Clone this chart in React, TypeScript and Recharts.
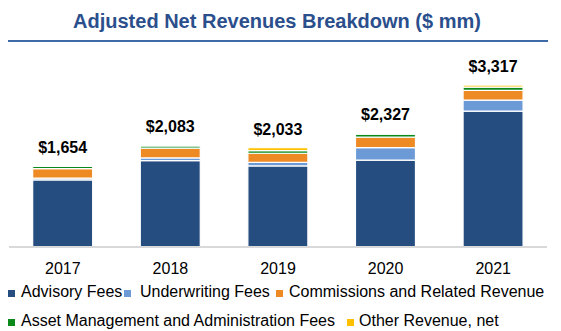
import { BarChart, Bar, XAxis, YAxis, Legend, LabelList } from 'recharts';

const years = ['2017', '2018', '2019', '2020', '2021'];
const advisoryFees = [1375, 1770, 1660, 1780, 2785];
const underwritingFees = [35, 55, 75, 255, 225];
const commissions = [195, 200, 185, 215, 200];
const assetMgmtFees = [45, 48, 55, 62, 65];
const otherRevenue = [4, 10, 58, 15, 42];
const totals = ['$1,654', '$2,083', '$2,033', '$2,327', '$3,317'];

const series = [
  { key: 'advisory', name: 'Advisory Fees', color: '#264D80' },
  { key: 'underwriting', name: 'Underwriting Fees', color: '#6C9AD6' },
  { key: 'commissions', name: 'Commissions and Related Revenue', color: '#EE8A24' },
  { key: 'assetMgmt', name: 'Asset Management and Administration Fees', color: '#0B8A1B' },
  { key: 'other', name: 'Other Revenue, net', color: '#FFC000' },
];

const data = years.map((year, i) => ({
  year,
  advisory: advisoryFees[i],
  underwriting: underwritingFees[i],
  commissions: commissions[i],
  assetMgmt: assetMgmtFees[i],
  other: otherRevenue[i],
  total: totals[i],
}));

const FONT = 'Arial, "Liberation Sans", sans-serif';

// legend layout: square x, text x, row top
const legendPos = [
  { sq: 8, tx: 21, top: 6 },
  { sq: 124, tx: 140, top: 6 },
  { sq: 276, tx: 289, top: 6 },
  { sq: 8, tx: 21, top: 35 },
  { sq: 347, tx: 359, top: 35 },
];

function LegendContent() {
  return (
    <div style={{ position: 'relative', width: 561, height: 54, fontFamily: FONT }}>
      {series.map((s, i) => (
        <div key={s.key}>
          <span
            style={{
              position: 'absolute',
              left: legendPos[i].sq,
              top: legendPos[i].top + 7,
              width: 7,
              height: 7,
              background: s.color,
            }}
          />
          <span
            style={{
              position: 'absolute',
              left: legendPos[i].tx,
              top: legendPos[i].top,
              fontSize: 16,
              lineHeight: '18px',
              color: '#000',
              whiteSpace: 'nowrap',
            }}
          >
            {s.name}
          </span>
        </div>
      ))}
    </div>
  );
}

export default function App() {
  return (
    <div style={{ position: 'absolute', left: 0, top: 0, width: 561, height: 331, background: '#fff', fontFamily: FONT }}>
      <div
        style={{
          position: 'absolute',
          left: 0,
          top: 9,
          width: 554,
          textAlign: 'center',
          fontSize: 20,
          fontWeight: 'bold',
          color: '#2B4F8C',
          lineHeight: '24px',
        }}
      >
        Adjusted Net Revenues Breakdown ($ mm)
      </div>
      <div style={{ position: 'absolute', left: 8, top: 40, width: 540, height: 2, background: '#3F6AA8' }} />
      <div style={{ position: 'absolute', left: 0, top: 0 }}>
        <BarChart
          width={561}
          height={331}
          data={data}
          margin={{ top: 81, right: 14, left: 9, bottom: 0 }}
          barCategoryGap="22%"
        >
          <XAxis
            dataKey="year"
            height={30}
            tickLine={false}
            tickMargin={10}
            axisLine={{ stroke: '#D9D9D9', strokeWidth: 2 }}
            tick={{ fontSize: 16, fill: '#000', fontFamily: FONT }}
          />
          <YAxis hide domain={[0, 3400]} />
          <Legend
            verticalAlign="bottom"
            content={<LegendContent />}
            wrapperStyle={{ left: 0, bottom: 0, width: 561, height: 54 }}
          />
          {series.map((s, i) => (
            <Bar
              key={s.key}
              dataKey={s.key}
              name={s.name}
              stackId="a"
              fill={s.color}
              stroke="#fff"
              strokeWidth={1.2}
              isAnimationActive={false}
            >
              {i === series.length - 1 && (
                <LabelList
                  dataKey="total"
                  position="top"
                  offset={13}
                  style={{ fontSize: 16, fontWeight: 'bold', fill: '#000', fontFamily: FONT }}
                />
              )}
            </Bar>
          ))}
        </BarChart>
      </div>
    </div>
  );
}
